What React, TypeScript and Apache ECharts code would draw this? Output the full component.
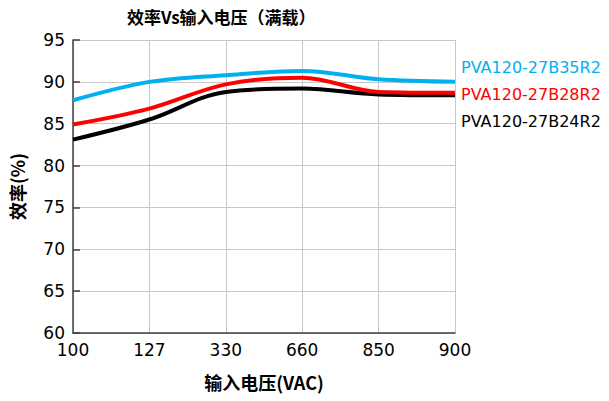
import React, { useEffect, useRef } from "react";
import * as echarts from "echarts";

const categories = ["100", "127", "330", "660", "850", "900"];
const seriesNames = ["PVA120-27B35R2", "PVA120-27B28R2", "PVA120-27B24R2"];
const seriesColors = ["#00B0F0", "#FF0000", "#000000"];
const blueValues = [87.8, 90.0, 90.8, 91.3, 90.3, 90.0];
const redValues = [84.9, 86.8, 89.7, 90.5, 88.8, 88.7];
const blackValues = [83.1, 85.5, 88.8, 89.2, 88.5, 88.4];
const allValues = [blueValues, redValues, blackValues];
const labelTops = [59, 86, 113];

export default function App() {
  const ref = useRef<HTMLDivElement>(null);
  useEffect(() => {
    const chart = echarts.init(ref.current!, null, { renderer: "svg" });
    const numFont = "DejaVu Sans";
    const cjkFont = "Noto Sans CJK SC";
    chart.setOption({
      animation: false,
      backgroundColor: "#ffffff",
      title: {
        text: "效率Vs输入电压（满载）",
        left: 122,
        top: 3,
        textStyle: { fontFamily: cjkFont, fontSize: 17, fontWeight: "bold", color: "#000" },
      },
      grid: { left: 72, right: 154, top: 40, bottom: 68, containLabel: false },
      xAxis: {
        type: "category",
        data: categories,
        boundaryGap: false,
        name: "输入电压(VAC)",
        nameLocation: "middle",
        nameGap: 40,
        nameTextStyle: { fontFamily: cjkFont, fontSize: 18, fontWeight: "bold", color: "#000" },
        axisLine: { lineStyle: { color: "#404040", width: 1.5 } },
        axisTick: { show: false },
        axisLabel: { fontFamily: numFont, fontSize: 17, color: "#000", margin: 8 },
        splitLine: { show: true, lineStyle: { color: "#c8c8c8", width: 1 } },
      },
      yAxis: {
        type: "value",
        min: 60,
        max: 95,
        interval: 5,
        name: "效率(%)",
        nameLocation: "middle",
        nameGap: 47,
        nameTextStyle: { fontFamily: cjkFont, fontSize: 18, fontWeight: "bold", color: "#000" },
        axisLine: { show: true, lineStyle: { color: "#404040", width: 1.5 } },
        axisTick: { show: true, inside: true, length: 7, lineStyle: { color: "#404040", width: 1.5 } },
        axisLabel: { fontFamily: numFont, fontSize: 17, color: "#000", margin: 8 },
        splitLine: { show: true, lineStyle: { color: "#c8c8c8", width: 1 } },
      },
      series: allValues.map((vals, i) => ({
        name: seriesNames[i],
        type: "line",
        data: vals,
        smooth: 0.35,
        symbol: "none",
        lineStyle: { color: seriesColors[i], width: 4 },
        z: 10 - i,
      })),
      graphic: seriesNames.map((n, i) => ({
        type: "text",
        left: 461,
        top: labelTops[i],
        style: { text: n, fill: seriesColors[i], fontFamily: numFont, fontSize: 16 },
      })),
    });
    return () => chart.dispose();
  }, []);
  return (
    <div
      ref={ref}
      style={{ position: "absolute", left: 0, top: 0, width: 609, height: 401 }}
    />
  );
}
